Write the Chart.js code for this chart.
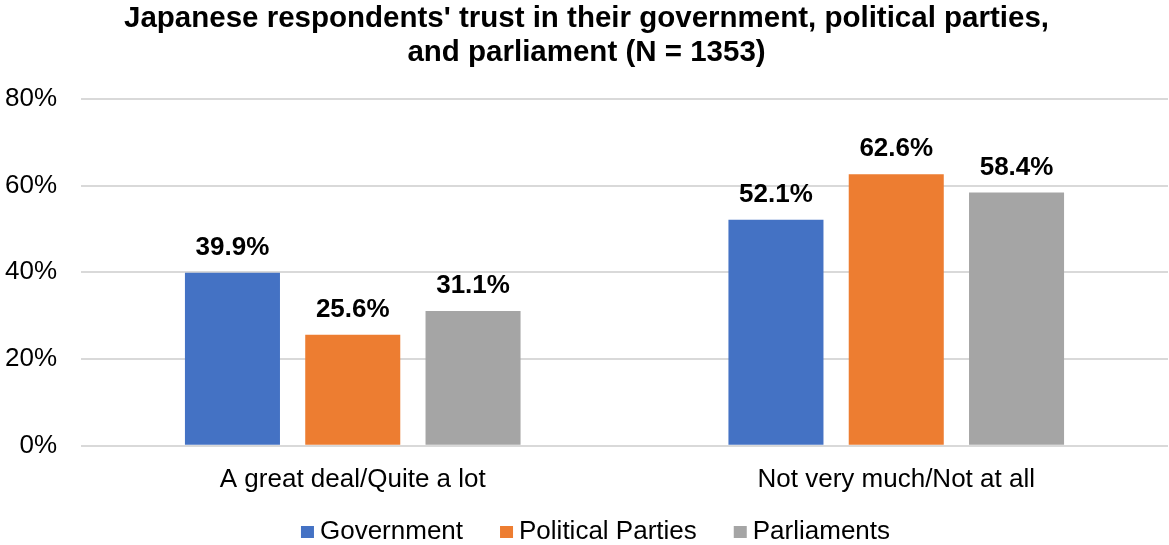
<!DOCTYPE html>
<html>
<head>
<meta charset="utf-8">
<script src="https://cdn.jsdelivr.net/npm/chart.js@4"></script>
<style>
  html, body { margin: 0; padding: 0; background: #ffffff; }
  #wrap { width: 1169px; height: 545px; position: relative; }
</style>
</head>
<body>
<div id="wrap"><canvas id="c"></canvas></div>
<script>
const categories = ['A great deal/Quite a lot', 'Not very much/Not at all'];
const seriesNames = ['Government', 'Political Parties', 'Parliaments'];
const government = [39.9, 52.1];
const politicalParties = [25.6, 62.6];
const parliaments = [31.1, 58.4];
const yTicks = [0, 20, 40, 60, 80];
const colors = ['#4472C4', '#ED7D31', '#A5A5A5'];

const FONT = '"Liberation Sans", Arial, sans-serif';

// Bold percentage labels above each bar
const valueLabels = {
  id: 'valueLabels',
  afterDatasetsDraw(chart) {
    const ctx = chart.ctx;
    ctx.save();
    ctx.font = 'bold 26px ' + FONT;
    ctx.fillStyle = '#000000';
    ctx.textAlign = 'center';
    ctx.textBaseline = 'alphabetic';
    chart.data.datasets.forEach((ds, i) => {
      const meta = chart.getDatasetMeta(i);
      meta.data.forEach((bar, j) => {
        ctx.fillText(ds.data[j].toFixed(1) + '%', bar.x, bar.y - 18);
      });
    });
    ctx.restore();
  }
};

// Compact legend row at the bottom: small square swatch, tight gap to its text
const bottomLegend = {
  id: 'bottomLegend',
  afterDraw(chart) {
    const ctx = chart.ctx;
    const box = 13, gapText = 6, gapItem = 37, baseline = 539, centerX = 595.5;
    ctx.save();
    ctx.font = '26px ' + FONT;
    ctx.textBaseline = 'alphabetic';
    ctx.textAlign = 'left';
    const items = chart.data.datasets.map(ds => ({
      text: ds.label, color: ds.backgroundColor, w: ctx.measureText(ds.label).width
    }));
    const total = items.reduce((s, it) => s + box + gapText + it.w, 0) + gapItem * (items.length - 1);
    let x = centerX - total / 2;
    items.forEach(it => {
      ctx.fillStyle = it.color;
      ctx.fillRect(x, baseline - 13, box, 12);
      ctx.fillStyle = '#000000';
      ctx.fillText(it.text, x + box + gapText, baseline);
      x += box + gapText + it.w + gapItem;
    });
    ctx.restore();
  }
};

new Chart(document.getElementById('c'), {
  type: 'bar',
  data: {
    labels: categories,
    datasets: [
      { label: seriesNames[0], data: government, backgroundColor: colors[0] },
      { label: seriesNames[1], data: politicalParties, backgroundColor: colors[1] },
      { label: seriesNames[2], data: parliaments, backgroundColor: colors[2] }
    ]
  },
  options: {
    responsive: true,
    maintainAspectRatio: false,
    animation: false,
    categoryPercentage: 0.664,
    barPercentage: 0.79,
    layout: { padding: { left: 5, right: 1, top: 0, bottom: 40 } },
    plugins: {
      title: {
        display: true,
        text: ["Japanese respondents' trust in their government, political parties,", 'and parliament (N = 1353)'],
        color: '#000000',
        font: { family: FONT, size: 29.5, weight: 'bold', lineHeight: 1.15 },
        padding: { top: 2, bottom: 29 }
      },
      legend: { display: false },
      tooltip: { enabled: false }
    },
    scales: {
      x: {
        grid: { display: false },
        border: { display: false },
        ticks: { color: '#000000', font: { family: FONT, size: 26 }, padding: 10 }
      },
      y: {
        min: 0,
        max: 80,
        afterBuildTicks(scale) { scale.ticks = yTicks.map(v => ({ value: v })); },
        afterFit(scale) { scale.width = 76; },
        grid: { color: '#D9D9D9', lineWidth: 2, drawTicks: false },
        border: { display: false },
        ticks: {
          color: '#000000',
          font: { family: FONT, size: 26 },
          padding: 24,
          callback: v => v + '%'
        }
      }
    }
  },
  plugins: [valueLabels, bottomLegend]
});
</script>
</body>
</html>
